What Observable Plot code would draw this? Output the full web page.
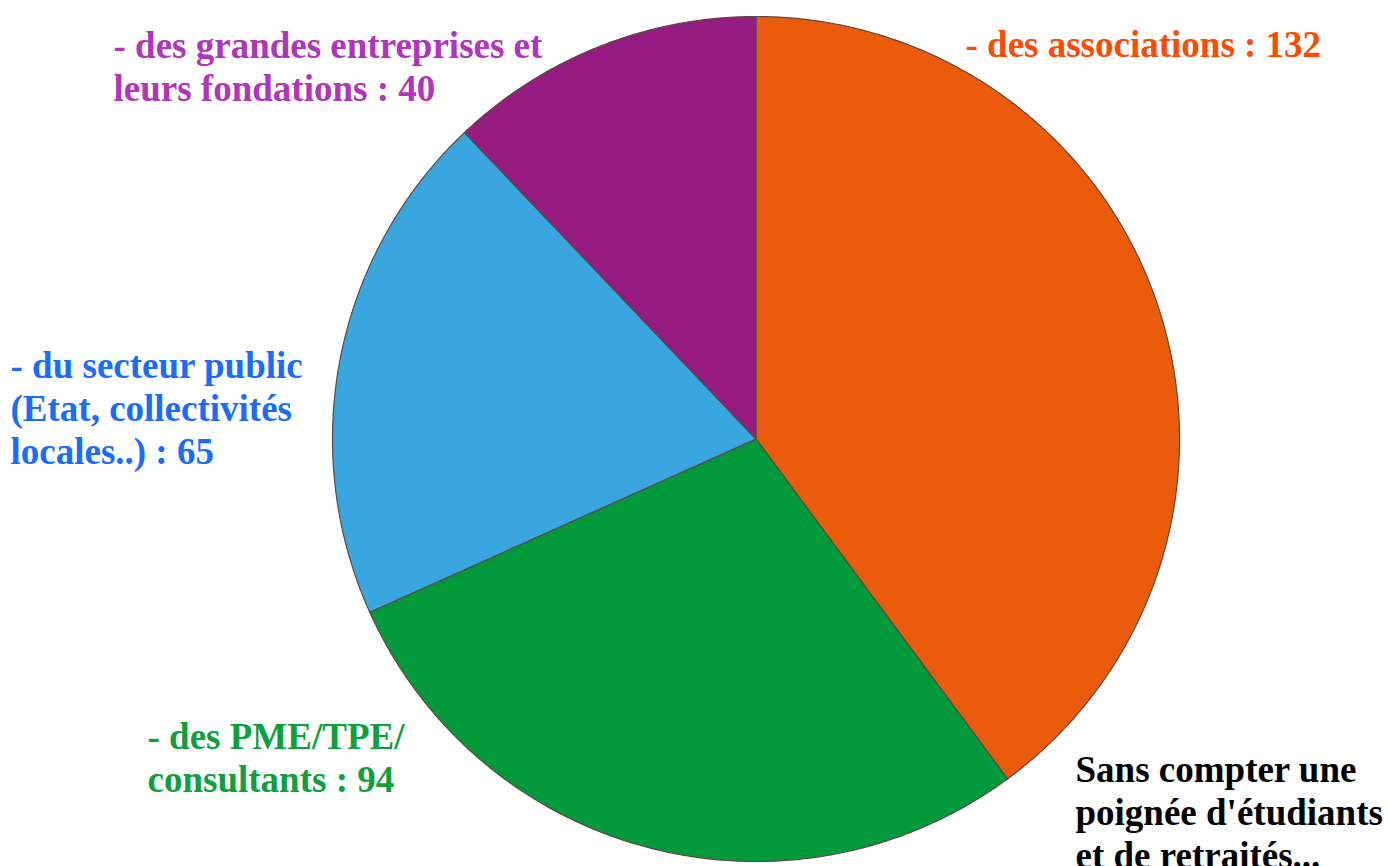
<!DOCTYPE html>
<html>
<head>
<meta charset="utf-8">
<script src="https://cdn.jsdelivr.net/npm/d3@7"></script>
<script src="https://cdn.jsdelivr.net/npm/@observablehq/plot@0.6"></script>
<style>
  html, body { margin: 0; padding: 0; background: #fff; }
  #chart svg { display: block; }
</style>
</head>
<body>
<div id="chart"></div>
<script>
const categories = ["associations", "PME/TPE/consultants", "secteur public", "grandes entreprises"];
const values = [132, 94, 65, 40];
const sliceColors = ["#EA5B0C", "#009A3D", "#3AA6E0", "#951B81"];
const labels = [
  "- des associations : 132",
  "- des PME/TPE/\nconsultants : 94",
  "- du secteur public\n(Etat, collectivités\nlocales..) : 65",
  "- des grandes entreprises et\nleurs fondations : 40"
];
const labelColors = ["#FF4A00", "#0EA03C", "#1A6CFF", "#B034BC"];
const note = "Sans compter une\npoignée d'étudiants\net de retraités...";

// Build slice outlines from the pie layout of the values
const arcs = d3.pie().sort(null).startAngle(0).endAngle(2 * Math.PI)(values);
const slicePts = [];
arcs.forEach((a, i) => {
  const cat = categories[i];
  slicePts.push({cat, x: 0, y: 0});
  const n = Math.max(2, Math.ceil((a.endAngle - a.startAngle) / (Math.PI / 360)));
  for (let k = 0; k <= n; k++) {
    const t = a.startAngle + (a.endAngle - a.startAngle) * k / n;
    slicePts.push({cat, x: Math.sin(t), y: Math.cos(t)});
  }
});

const font = "'Liberation Serif', 'Times New Roman', serif";
const textOpts = (dx, dy, fill) => ({
  frameAnchor: "top-left", dx, dy, fill, textAnchor: "start", lineAnchor: "top",
  fontSize: 37, fontWeight: "bold", lineHeight: 1.162, fontFamily: font
});

const chart = Plot.plot({
  width: 1389,
  height: 866,
  margin: 0,
  x: {domain: [-1, 1], range: [332, 1179], axis: null},
  y: {domain: [-1, 1], range: [861, 16], axis: null},
  color: {domain: categories, range: sliceColors},
  style: {fontFamily: font, background: "#fff"},
  marks: [
    Plot.line(slicePts, {x: "x", y: "y", z: "cat", fill: "cat", stroke: "#5a4a40", strokeWidth: 1.2, curve: "linear-closed"}),
    Plot.text([labels[0]], textOpts(965, 25.5, labelColors[0])),
    Plot.text([labels[1]], textOpts(147, 717.5, labelColors[1])),
    Plot.text([labels[2]], textOpts(10, 346.5, labelColors[2])),
    Plot.text([labels[3]], textOpts(113, 26.5, labelColors[3])),
    Plot.text([note], textOpts(1075, 750.5, "#000"))
  ]
});
document.getElementById("chart").appendChild(chart);
</script>
</body>
</html>
